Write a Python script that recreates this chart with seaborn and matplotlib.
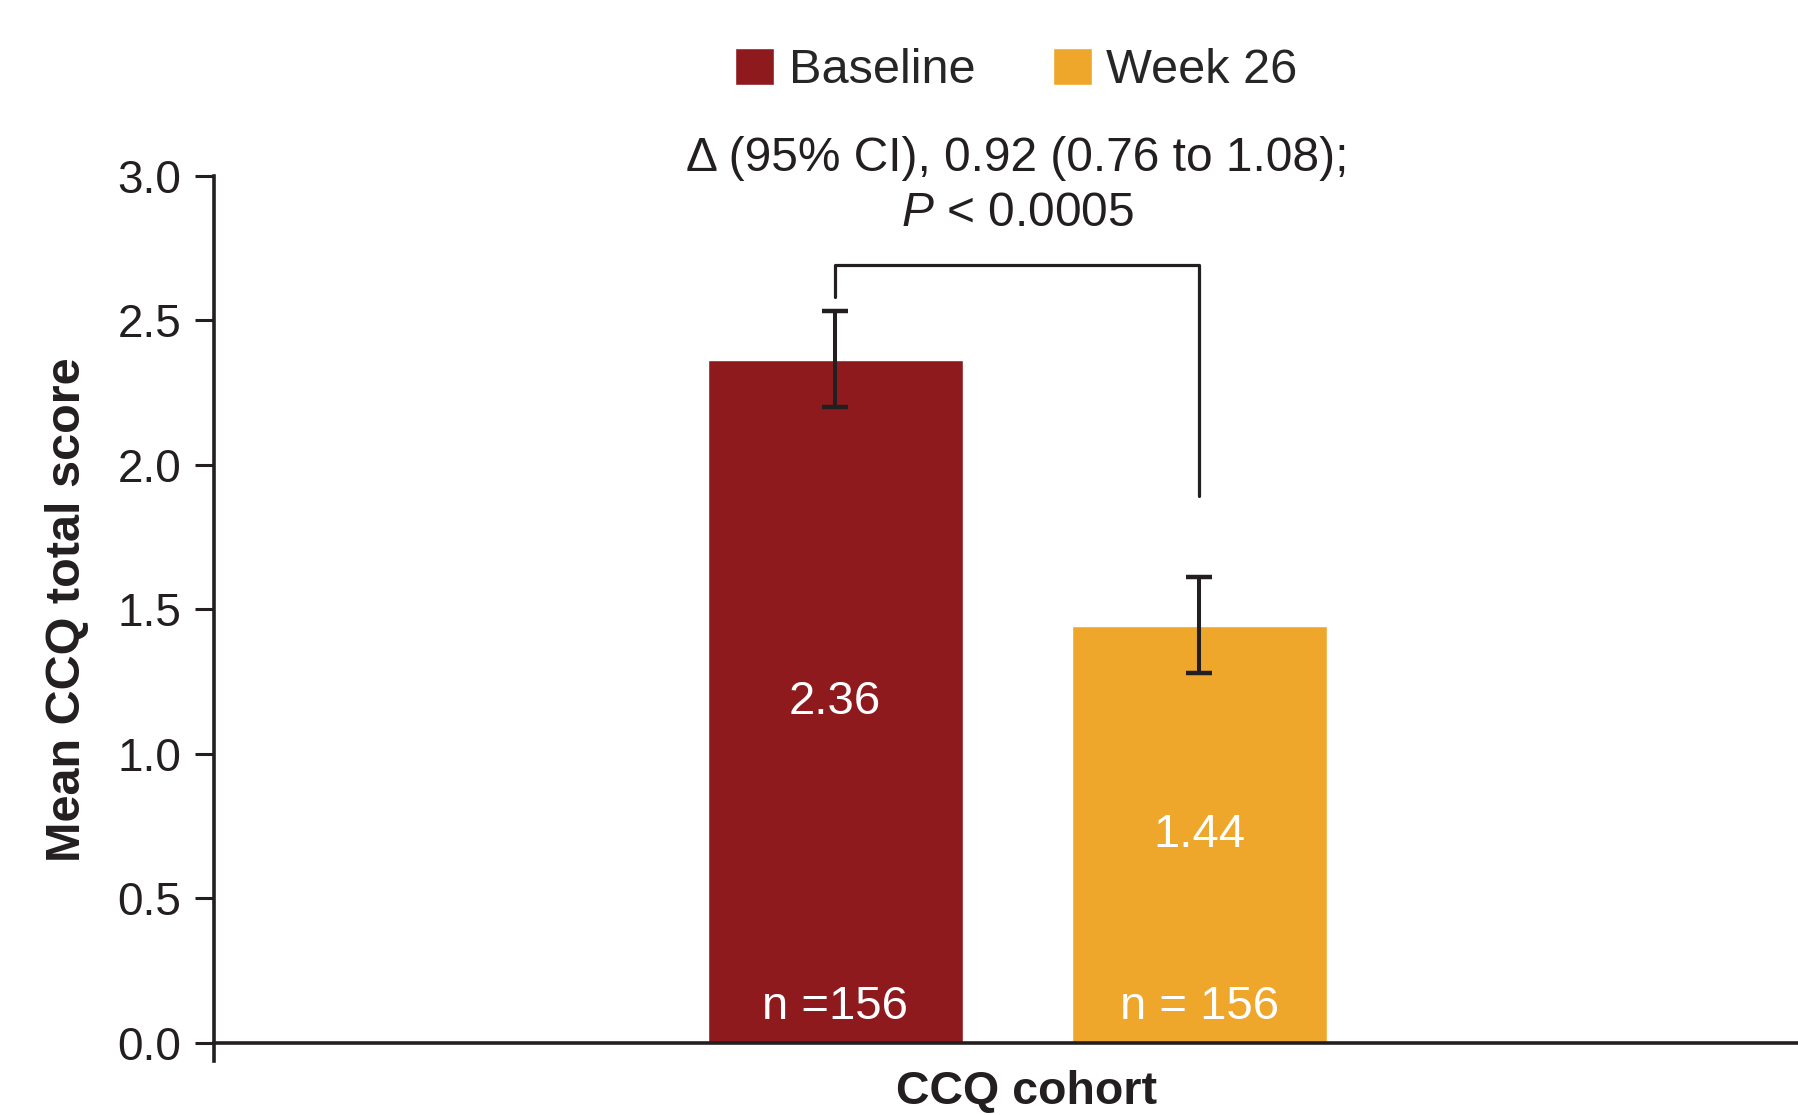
import numpy as np
import pandas as pd
import matplotlib
matplotlib.use("Agg")
import matplotlib.pyplot as plt
import seaborn as sns

# values
cohort = "CCQ cohort"
timepoints = ["Baseline", "Week 26"]
mean_scores = [2.36, 1.44]
ci_low = [2.20, 1.28]
ci_high = [2.53, 1.61]
n_labels = ["n =156", "n = 156"]
bar_colors = ["#8E1A1E", "#EEA62B"]
yticks = [0.0, 0.5, 1.0, 1.5, 2.0, 2.5, 3.0]
delta_text = "Δ (95% CI), 0.92 (0.76 to 1.08);"
p_text = "$\\mathit{P}$ < 0.0005"

INK = "#231F20"
NARROW = ["Liberation Sans Narrow", "Liberation Sans", "DejaVu Sans"]

sns.set_style("ticks")
plt.rcParams["font.family"] = ["Liberation Sans", "DejaVu Sans"]
plt.rcParams["mathtext.fontset"] = "custom"
plt.rcParams["mathtext.it"] = "Liberation Sans:italic"
plt.rcParams["mathtext.rm"] = "Liberation Sans"

df = pd.DataFrame({
    "cohort": [cohort] * len(timepoints),
    "timepoint": timepoints,
    "score": mean_scores,
})

fig = plt.figure(figsize=(17.99, 11.15), dpi=100)
ax = fig.add_axes([0.1192, 0.0484, 0.8808, 0.7942])

sns.barplot(data=df, x="cohort", y="score", hue="timepoint",
            palette=dict(zip(timepoints, bar_colors)), hue_order=timepoints,
            width=0.8, gap=0.3, errorbar=None, saturation=1, ax=ax)

# bar centres come from the seaborn containers
centres = [c[0].get_x() + c[0].get_width() / 2 for c in ax.containers]

lo = np.array(mean_scores) - np.array(ci_low)
hi = np.array(ci_high) - np.array(mean_scores)
ax.errorbar(centres, mean_scores, yerr=[lo, hi], fmt="none", ecolor=INK,
            elinewidth=2.9, capsize=9.5, capthick=3.2, zorder=5)

for xc, m, n in zip(centres, mean_scores, n_labels):
    ax.text(xc, m / 2, f"{m:.2f}", ha="center", va="center", color="white",
            fontsize=34, family=NARROW)
    ax.text(xc, 0.123, n, ha="center", va="center", color="white",
            fontsize=34, family=NARROW)

# significance bracket
ax.plot([centres[0], centres[0], centres[1], centres[1]],
        [2.58, 2.69, 2.69, 1.89], color=INK, lw=2.3, clip_on=False)
mid = (centres[0] + centres[1]) / 2
ax.text(mid, 3.06, delta_text, ha="center", va="center", color=INK,
        fontsize=34.5, family=NARROW, clip_on=False)
ax.text(mid, 2.87, p_text, ha="center", va="center", color=INK,
        fontsize=34.5, family=NARROW, clip_on=False)

xlim = (-0.882, 0.859)
ax.set_ylim(-0.0635, 3.0)
ax.set_xlim(*xlim)
ax.set_yticks(yticks)
ax.set_yticklabels([f"{t:.1f}" for t in yticks])
ax.tick_params(axis="y", length=14, width=2.2, color=INK, labelsize=33,
               labelcolor=INK, pad=10)
ax.tick_params(axis="x", length=0, labelbottom=False)

sns.despine(ax=ax)
ax.spines["bottom"].set_position(("data", 0))
for s in ["left", "bottom"]:
    ax.spines[s].set_linewidth(2.6)
    ax.spines[s].set_color(INK)

# category name sits under the group centre
ax.set_xlabel(cohort, fontsize=33.5, fontweight="bold", color=INK,
              family=NARROW)
ax.xaxis.set_label_coords((0.01 - xlim[0]) / (xlim[1] - xlim[0]), -0.010)
ax.set_ylabel("Mean CCQ total score", fontsize=35, fontweight="bold",
              color=INK, family=NARROW)
ax.yaxis.set_label_coords(-0.0785, 0.51)

handles, labels = ax.get_legend_handles_labels()
ax.get_legend().remove()
fig.legend(handles, labels, loc="center", bbox_to_anchor=(0.565, 0.937),
           ncol=2, frameon=False, handlelength=0.8,
           handleheight=0.8, handletextpad=0.3, columnspacing=1.6,
           prop={"family": NARROW, "size": 35})

fig.savefig("out.png", dpi=100)
plt.close(fig)
